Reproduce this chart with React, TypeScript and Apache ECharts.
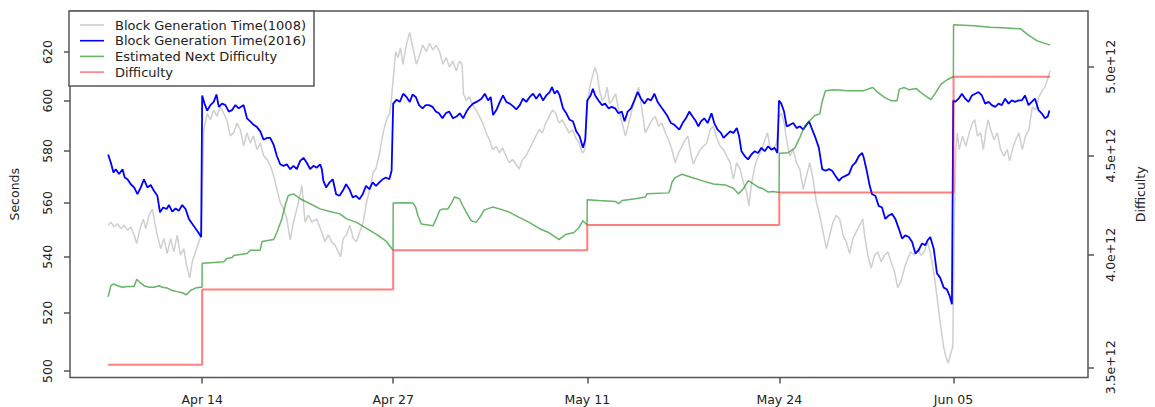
import React, { useEffect, useRef } from "react";
import * as echarts from "echarts";

// x values are days since Apr 1 (fractional); y values in seconds / difficulty in units of 1e12
const xTickDays = [13.3, 26.52, 39.95, 53.24, 65.3];
const xTickLabels = ["Apr 14", "Apr 27", "May 11", "May 24", "Jun 05"];
const secondsTicks = [500, 520, 540, 560, 580, 600, 620];
const difficultyTicks = [3.5, 4.0, 4.5, 5.0];

const blockTime1008 = [
  [6.79,551.6],[6.98,552.8],[7.21,551.0],[7.44,552.2],[7.67,550.4],[7.90,551.6],[8.13,549.8],[8.36,551.0],[8.59,548.0],[8.77,544.9],[9.00,550.4],[9.23,554.0],[9.39,550.4],[9.62,555.3],[9.85,557.7],[10.01,552.8],[10.19,548.0],[10.42,543.0],[10.65,546.7],[10.88,541.2],[11.11,546.7],[11.34,541.8],[11.57,548.0],[11.80,540.6],[12.03,543.0],[12.21,537.1],[12.44,532.4],[12.61,538.2],[12.84,541.8],[13.07,545.5],[13.23,548.0],[13.41,588.4],[13.65,594.9],[13.87,592.3],[14.10,596.2],[14.33,593.7],[14.56,597.6],[14.79,594.9],[15.02,591.8],[15.25,585.9],[15.48,587.1],[15.71,591.0],[15.94,588.4],[16.17,582.0],[16.40,587.1],[16.63,583.1],[16.86,585.9],[17.09,580.5],[17.32,583.1],[17.55,578.1],[17.78,576.7],[18.01,574.3],[18.24,570.5],[18.47,565.2],[18.70,560.2],[18.93,557.7],[19.16,554.0],[19.39,546.2],[19.62,552.8],[19.96,560.1],[20.20,566.6],[20.42,552.8],[20.65,555.4],[20.88,552.8],[21.23,554.0],[21.57,549.2],[21.80,545.5],[22.03,548.1],[22.26,545.5],[22.49,544.4],[22.72,541.8],[22.88,540.0],[23.06,546.7],[23.30,548.1],[23.52,551.7],[23.75,546.7],[23.98,545.5],[24.21,549.2],[24.44,552.8],[24.67,560.1],[24.90,565.2],[25.13,571.6],[25.31,572.9],[25.54,578.1],[25.82,587.1],[26.05,592.3],[26.28,594.9],[26.39,600.1],[26.55,610.9],[26.69,620.2],[26.85,617.7],[27.02,621.7],[27.20,614.9],[27.43,622.9],[27.66,628.3],[27.89,621.7],[28.12,614.9],[28.35,618.9],[28.58,622.9],[28.81,620.2],[29.04,623.7],[29.27,620.9],[29.50,622.9],[29.73,620.2],[29.96,614.9],[30.19,617.7],[30.42,613.7],[30.65,616.2],[30.88,612.2],[31.11,616.2],[31.29,614.9],[31.38,602.8],[31.57,600.1],[31.79,601.6],[32.02,598.2],[32.26,596.2],[32.49,593.7],[32.72,591.0],[32.95,587.1],[33.18,584.4],[33.41,580.5],[33.64,581.8],[33.87,579.2],[34.09,581.2],[34.33,578.0],[34.55,575.4],[34.78,576.7],[35.02,574.8],[35.24,572.9],[35.47,576.7],[35.70,578.0],[35.93,580.5],[36.16,583.1],[36.39,585.8],[36.62,588.4],[36.85,587.1],[37.08,591.0],[37.31,593.6],[37.54,596.2],[37.77,594.9],[38.00,591.0],[38.23,592.3],[38.46,589.7],[38.69,587.1],[38.92,588.4],[39.15,585.1],[39.38,583.1],[39.61,579.2],[39.79,580.5],[39.95,597.5],[40.12,605.5],[40.29,609.5],[40.48,613.6],[40.64,610.9],[40.80,604.1],[40.98,600.1],[41.17,601.5],[41.33,605.5],[41.49,598.8],[41.67,600.1],[41.91,602.8],[42.13,596.2],[42.36,591.0],[42.60,585.8],[42.82,591.0],[43.05,596.2],[43.29,601.5],[43.51,605.5],[43.74,596.2],[43.97,587.1],[44.20,589.7],[44.43,592.3],[44.66,593.6],[44.89,589.7],[45.12,591.0],[45.35,587.1],[45.58,584.4],[45.81,580.5],[46.04,575.4],[46.27,579.2],[46.50,581.8],[46.73,584.4],[46.91,585.8],[47.15,578.0],[47.30,574.8],[47.53,578.0],[47.77,580.5],[47.99,581.8],[48.22,583.1],[48.46,588.4],[48.69,589.7],[48.91,585.1],[49.15,581.8],[49.38,580.5],[49.60,578.0],[49.84,575.4],[50.06,569.0],[50.29,575.4],[50.53,572.9],[50.75,567.8],[50.98,564.0],[51.14,558.9],[51.33,567.8],[51.56,574.2],[51.79,578.0],[52.02,580.5],[52.25,584.4],[52.43,587.1],[52.59,581.8],[52.82,580.5],[53.05,583.1],[53.22,593.6],[53.39,594.9],[53.58,591.0],[53.74,584.4],[53.97,578.0],[54.20,580.5],[54.43,575.4],[54.66,572.9],[54.89,565.2],[55.12,570.3],[55.35,575.4],[55.58,569.0],[55.81,560.2],[56.04,555.3],[56.27,549.2],[56.50,543.0],[56.73,548.0],[56.96,552.8],[57.19,555.3],[57.42,554.0],[57.65,548.0],[57.88,545.5],[58.11,541.2],[58.34,546.7],[58.56,549.2],[58.80,551.6],[59.02,554.0],[59.14,548.0],[59.37,540.6],[59.60,535.9],[59.83,540.6],[60.06,541.8],[60.29,538.2],[60.52,540.6],[60.75,541.8],[60.98,538.2],[61.21,534.7],[61.44,528.9],[61.67,531.2],[61.90,535.9],[62.13,539.4],[62.35,541.8],[62.59,540.6],[62.81,543.0],[63.04,540.6],[63.27,541.8],[63.50,545.5],[63.73,540.6],[63.96,533.6],[64.19,524.2],[64.42,515.0],[64.61,508.3],[64.77,504.8],[64.93,502.6],[65.11,506.0],[65.25,508.3],[65.35,552.8],[65.46,580.5],[65.57,587.1],[65.69,580.5],[65.92,585.8],[66.15,581.8],[66.38,587.1],[66.61,591.0],[66.77,592.3],[66.95,585.8],[67.18,587.1],[67.36,580.5],[67.52,587.1],[67.69,592.3],[67.87,588.4],[68.10,584.4],[68.33,587.1],[68.56,580.5],[68.79,578.0],[69.02,580.5],[69.18,576.1],[69.37,580.5],[69.60,584.4],[69.83,587.1],[70.06,580.5],[70.28,585.8],[70.52,588.4],[70.75,597.5],[70.98,596.2],[71.21,601.5],[71.44,604.1],[71.62,605.5],[71.78,608.2],[71.97,612.2]
];

const blockTime2016 = [
  [6.79,578.6],[6.98,575.4],[7.16,571.6],[7.32,572.9],[7.55,571.0],[7.79,572.9],[7.94,569.7],[8.13,569.0],[8.36,567.1],[8.59,565.9],[8.82,563.3],[9.05,565.9],[9.27,569.0],[9.51,565.9],[9.74,566.8],[9.96,564.6],[10.20,562.7],[10.38,556.5],[10.60,558.3],[10.84,557.7],[11.00,559.2],[11.23,556.7],[11.46,557.9],[11.69,557.1],[11.92,559.2],[12.15,557.7],[12.38,554.0],[12.61,552.2],[12.84,550.4],[13.00,549.2],[13.23,547.3],[13.30,602.1],[13.46,598.8],[13.65,596.0],[13.87,598.2],[14.10,599.5],[14.29,602.5],[14.45,597.5],[14.68,598.8],[14.91,598.2],[15.14,595.6],[15.37,596.2],[15.60,598.2],[15.83,596.9],[16.17,598.2],[16.40,592.9],[16.63,591.7],[16.86,590.3],[17.09,589.4],[17.32,587.7],[17.55,584.4],[17.78,585.1],[18.01,585.1],[18.24,582.5],[18.47,578.0],[18.70,574.8],[18.93,574.2],[19.16,574.8],[19.39,572.9],[19.62,574.2],[19.85,572.9],[20.08,576.1],[20.31,577.3],[20.54,575.4],[20.77,572.9],[21.00,574.2],[21.23,573.5],[21.46,574.8],[21.58,572.9],[21.69,568.4],[21.88,565.9],[22.11,567.8],[22.34,569.0],[22.57,563.3],[22.80,562.7],[23.03,564.6],[23.26,567.1],[23.49,565.2],[23.72,562.1],[23.95,562.7],[24.18,561.4],[24.41,563.3],[24.64,566.5],[24.87,565.2],[25.10,567.8],[25.33,566.5],[25.56,567.8],[25.79,569.0],[26.02,569.7],[26.25,569.0],[26.41,572.3],[26.52,598.8],[26.76,600.4],[26.98,599.5],[27.21,602.8],[27.44,601.5],[27.67,599.5],[27.86,602.5],[28.08,601.5],[28.31,598.2],[28.55,596.9],[28.77,598.2],[29.00,598.2],[29.24,597.5],[29.47,595.6],[29.69,594.9],[29.93,592.9],[30.16,594.9],[30.39,595.6],[30.66,592.9],[30.90,593.6],[31.13,594.9],[31.36,592.9],[31.59,595.6],[31.82,597.5],[32.05,598.8],[32.28,599.5],[32.63,600.8],[32.86,602.8],[33.09,600.1],[33.27,601.5],[33.43,594.2],[33.66,596.2],[33.90,599.5],[34.12,602.1],[34.35,599.5],[34.59,598.8],[34.81,597.8],[35.04,596.5],[35.28,598.2],[35.50,600.8],[35.73,599.5],[35.97,601.5],[36.20,602.8],[36.42,600.8],[36.66,602.8],[36.89,600.1],[37.11,602.1],[37.35,603.5],[37.51,605.5],[37.69,602.8],[37.87,604.1],[38.04,602.1],[38.27,596.9],[38.50,594.9],[38.73,592.3],[38.96,591.7],[39.19,587.7],[39.42,585.8],[39.65,581.2],[39.81,584.4],[39.95,600.1],[40.18,602.1],[40.34,604.8],[40.50,602.1],[40.73,600.1],[40.96,598.2],[41.19,598.8],[41.42,596.9],[41.65,597.5],[41.88,596.9],[42.11,594.9],[42.34,595.6],[42.53,591.7],[42.75,595.6],[42.98,596.9],[43.21,600.1],[43.44,603.5],[43.67,600.8],[43.91,598.8],[44.13,600.8],[44.36,600.1],[44.60,602.8],[44.82,599.5],[45.05,597.5],[45.29,595.6],[45.52,593.6],[45.74,591.0],[45.98,590.3],[46.32,588.4],[46.55,591.0],[46.78,592.9],[47.01,595.6],[47.24,593.6],[47.47,591.7],[47.64,589.7],[47.82,591.7],[48.05,592.9],[48.28,591.0],[48.55,594.9],[48.74,591.0],[48.97,588.4],[49.20,587.1],[49.38,585.1],[49.61,586.4],[49.84,587.7],[50.07,587.1],[50.30,589.0],[50.46,585.8],[50.62,579.9],[50.85,578.0],[51.08,576.7],[51.31,578.6],[51.54,579.9],[51.77,579.2],[52.00,581.2],[52.23,579.9],[52.47,581.8],[52.69,580.5],[52.92,581.2],[53.11,579.2],[53.22,600.1],[53.38,598.8],[53.57,595.6],[53.75,589.7],[53.98,590.3],[54.21,591.0],[54.44,589.0],[54.67,589.7],[54.90,588.4],[55.13,590.3],[55.30,591.7],[55.52,588.4],[55.75,585.1],[55.98,581.2],[56.21,572.9],[56.44,572.3],[56.68,572.9],[56.90,572.3],[57.13,570.3],[57.37,568.4],[57.59,569.7],[57.82,570.3],[58.06,571.0],[58.29,574.2],[58.51,575.4],[58.75,578.0],[58.98,579.2],[59.09,577.3],[59.27,572.9],[59.50,566.5],[59.66,563.3],[59.89,562.7],[60.12,558.9],[60.35,558.3],[60.58,554.0],[60.82,555.3],[61.04,555.9],[61.27,554.0],[61.51,550.4],[61.74,546.7],[61.96,547.9],[62.20,547.3],[62.43,545.5],[62.66,541.2],[62.89,542.5],[63.12,544.9],[63.35,544.3],[63.51,546.1],[63.69,547.3],[63.93,543.0],[64.15,534.1],[64.38,532.4],[64.62,528.9],[64.84,528.3],[65.03,526.0],[65.19,523.0],[65.28,600.1],[65.42,599.5],[65.65,600.8],[65.88,602.8],[66.11,600.8],[66.34,599.5],[66.57,602.1],[66.80,602.8],[67.03,603.5],[67.26,602.1],[67.49,598.8],[67.73,599.5],[67.95,598.2],[68.18,597.5],[68.42,598.8],[68.64,598.2],[68.87,600.8],[69.11,598.8],[69.33,600.1],[69.56,599.5],[69.80,600.1],[70.02,600.1],[70.25,602.1],[70.49,598.2],[70.71,599.5],[70.94,600.8],[71.18,596.2],[71.40,594.9],[71.63,592.9],[71.82,593.6],[71.94,596.0]
];

const estimatedNextDifficulty = [
  [6.79,3.805],[6.98,3.856],[7.16,3.864],[7.44,3.856],[7.79,3.849],[8.13,3.852],[8.59,3.852],[8.77,3.886],[9.00,3.871],[9.27,3.856],[9.62,3.849],[9.96,3.849],[10.31,3.856],[10.54,3.849],[10.88,3.845],[11.23,3.834],[11.57,3.829],[11.92,3.824],[12.21,3.815],[12.49,3.834],[12.84,3.845],[13.18,3.849],[13.29,3.849],[13.30,3.960],[13.87,3.963],[14.79,3.967],[15.02,3.983],[15.37,3.987],[15.48,3.997],[16.40,4.006],[16.63,4.022],[17.32,4.022],[17.44,4.064],[18.24,4.073],[18.47,4.107],[18.81,4.174],[19.04,4.241],[19.26,4.292],[19.62,4.300],[20.08,4.275],[20.77,4.250],[21.46,4.224],[22.14,4.211],[22.83,4.199],[23.30,4.174],[23.98,4.157],[24.67,4.127],[25.36,4.098],[26.05,4.064],[26.51,4.022],[26.52,4.253],[27.20,4.255],[27.89,4.253],[28.07,4.233],[28.23,4.191],[28.47,4.149],[28.92,4.144],[29.27,4.140],[29.50,4.174],[29.73,4.216],[29.96,4.224],[30.30,4.224],[30.53,4.250],[30.76,4.284],[31.11,4.275],[31.33,4.241],[31.57,4.208],[31.91,4.165],[32.26,4.157],[32.49,4.179],[32.83,4.219],[33.40,4.233],[33.87,4.224],[34.55,4.208],[35.24,4.182],[35.93,4.157],[36.62,4.127],[37.31,4.106],[38.00,4.073],[38.46,4.098],[39.03,4.107],[39.38,4.132],[39.65,4.165],[39.94,4.144],[39.95,4.270],[40.76,4.266],[41.91,4.261],[42.13,4.250],[42.36,4.266],[43.29,4.275],[43.97,4.284],[44.09,4.300],[45.58,4.305],[45.70,4.325],[45.81,4.359],[46.04,4.384],[46.50,4.401],[47.19,4.384],[47.88,4.368],[48.68,4.351],[49.49,4.346],[50.06,4.329],[50.41,4.300],[50.75,4.326],[51.10,4.368],[51.44,4.351],[51.79,4.334],[52.13,4.326],[52.48,4.309],[52.82,4.312],[53.23,4.307],[53.24,4.512],[53.85,4.515],[54.32,4.541],[54.66,4.597],[55.01,4.662],[55.35,4.690],[55.70,4.719],[56.04,4.728],[56.20,4.794],[56.43,4.859],[57.07,4.865],[57.99,4.859],[59.02,4.859],[59.71,4.878],[60.06,4.850],[60.52,4.822],[60.98,4.803],[61.39,4.803],[61.55,4.869],[61.90,4.878],[62.24,4.865],[62.70,4.873],[63.16,4.841],[63.73,4.809],[64.08,4.850],[64.42,4.897],[64.88,4.925],[65.29,4.941],[65.30,5.256],[66.72,5.250],[67.87,5.240],[69.02,5.236],[69.94,5.230],[70.51,5.190],[71.09,5.156],[71.99,5.130]
];

const difficultySteps = [
  [6.79, 3.511], [13.3, 3.839], [26.52, 4.022], [39.95, 4.144], [53.24, 4.307], [65.3, 4.941], [71.99, 4.941]
];

const FONT = "DejaVu Sans";
const TEXT = "#222";
const AXIS = "#555";

export default function App() {
  const ref = useRef<HTMLDivElement>(null);
  useEffect(() => {
    if (!ref.current) return;
    const chart = echarts.init(ref.current, undefined, { renderer: "svg" });
    chart.setOption({
      animation: false,
      backgroundColor: "#fff",
      textStyle: { fontFamily: FONT },
      grid: {
        left: 69, top: 11, width: 1022, height: 366.5,
        show: true, borderColor: AXIS, borderWidth: 1.5, backgroundColor: "transparent",
      },
      legend: {
        orient: "vertical", left: 69, top: 11,
        padding: [7, 8, 7, 11], itemGap: 1.7, itemWidth: 24, itemHeight: 1.6,
        icon: "rect",
        borderColor: AXIS, borderWidth: 1.5, backgroundColor: "#fff", borderRadius: 0,
        textStyle: { fontSize: 13, color: TEXT, fontFamily: FONT, lineHeight: 14, padding: [0, 0, 0, 6] },
        selectedMode: false,
        data: ["Block Generation Time(1008)", "Block Generation Time(2016)", "Estimated Next Difficulty", "Difficulty"],
      },
      xAxis: {
        type: "value", min: 4.152, max: 74.606,
        axisLine: { show: false },
        splitLine: { show: false },
        axisTick: { show: true, length: 6, customValues: xTickDays, lineStyle: { color: AXIS, width: 1.5 } },
        axisLabel: {
          customValues: xTickDays, margin: 15, fontSize: 12.5, color: TEXT, fontFamily: FONT,
          formatter: (v: number) => {
            const i = xTickDays.findIndex((d) => Math.abs(d - v) < 0.01);
            return i >= 0 ? xTickLabels[i] : "";
          },
        },
      },
      yAxis: [
        {
          type: "log", logBase: 10, min: 497.8, max: 637.4, position: "left",
          axisLine: { show: false }, splitLine: { show: false }, minorTick: { show: false },
          axisTick: { show: true, length: 6, customValues: secondsTicks, lineStyle: { color: AXIS, width: 1.5 } },
          axisLabel: { customValues: secondsTicks, rotate: 90, margin: 16, fontSize: 12.5, color: TEXT, fontFamily: FONT, formatter: (v: number) => String(Math.round(v)) },
          name: "Seconds", nameLocation: "middle", nameGap: 49, nameRotate: 90,
          nameTextStyle: { fontSize: 12.5, color: TEXT, fontFamily: FONT },
        },
        {
          type: "log", logBase: 10, min: 3.458, max: 5.342, position: "right",
          axisLine: { show: false }, splitLine: { show: false }, minorTick: { show: false },
          axisTick: { show: true, length: 6, customValues: difficultyTicks, lineStyle: { color: AXIS, width: 1.5 } },
          axisLabel: { customValues: difficultyTicks, rotate: 90, margin: 16, fontSize: 12.5, color: TEXT, fontFamily: FONT, formatter: (v: number) => v.toFixed(1) + "e+12" },
          name: "Difficulty", nameLocation: "middle", nameGap: 46, nameRotate: 90,
          nameTextStyle: { fontSize: 12.5, color: TEXT, fontFamily: FONT },
        },
      ],
      series: [
        {
          name: "Block Generation Time(1008)", type: "line", yAxisIndex: 0, data: blockTime1008,
          symbol: "none", silent: true,
          lineStyle: { color: "#cfcfcf", width: 1.5 }, itemStyle: { color: "#cfcfcf" },
        },
        {
          name: "Block Generation Time(2016)", type: "line", yAxisIndex: 0, data: blockTime2016,
          symbol: "none", silent: true,
          lineStyle: { color: "#0000ff", width: 1.8 }, itemStyle: { color: "#0000ff" },
        },
        {
          name: "Estimated Next Difficulty", type: "line", yAxisIndex: 1, data: estimatedNextDifficulty,
          symbol: "none", silent: true,
          lineStyle: { color: "rgba(20,140,20,0.65)", width: 1.5 }, itemStyle: { color: "rgba(20,140,20,0.65)" },
        },
        {
          name: "Difficulty", type: "line", yAxisIndex: 1, data: difficultySteps, step: "end",
          symbol: "none", silent: true,
          lineStyle: { color: "rgba(255,0,0,0.5)", width: 2 }, itemStyle: { color: "rgba(255,0,0,0.5)" },
        },
      ],
    });
    return () => chart.dispose();
  }, []);
  return (
    <div
      ref={ref}
      style={{ position: "absolute", left: 0, top: 0, width: 1155, height: 407, background: "#fff" }}
    />
  );
}
